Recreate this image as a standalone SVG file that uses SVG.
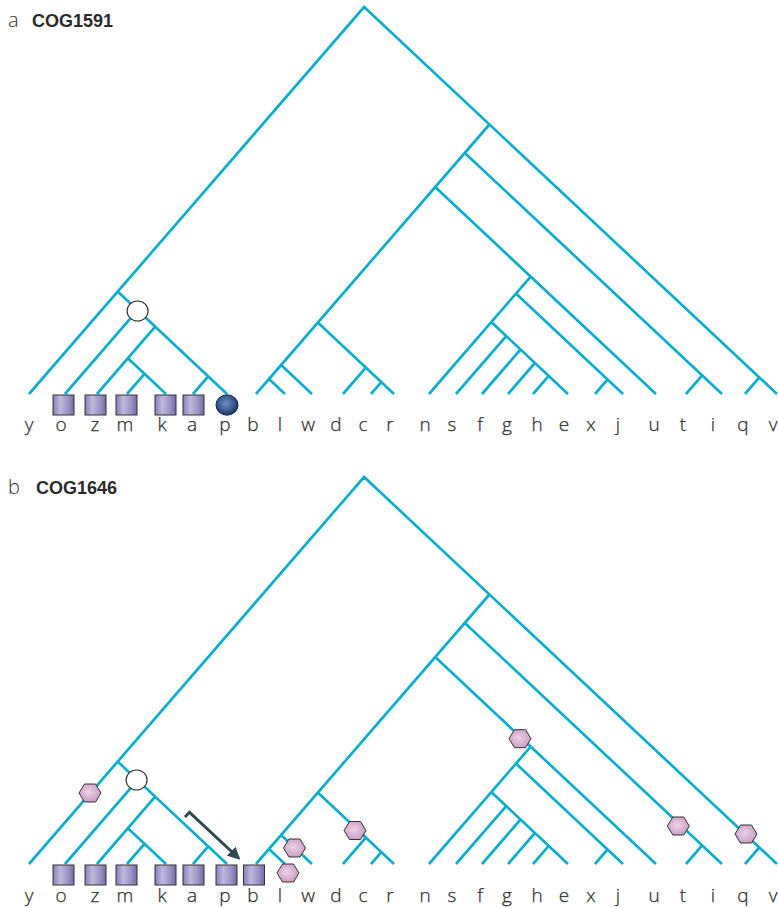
<svg xmlns="http://www.w3.org/2000/svg" xmlns:xlink="http://www.w3.org/1999/xlink" width="778" height="908" viewBox="0 0 778 908">
<defs>
<style>
.br{fill:none;stroke:#0BADCF;stroke-width:2.7;stroke-linecap:butt}
.lab{font-family:"Open Sans","Liberation Sans",sans-serif;font-weight:300;font-size:19px;fill:#2e2e2e;stroke:#2e2e2e;stroke-width:0.25;text-anchor:middle}
.ttl{font-family:"Liberation Sans",Arial,sans-serif;font-size:18px;fill:#2a2a2a}
.ttlb{font-weight:bold}
.ttll{font-family:"Open Sans","Liberation Sans",sans-serif;font-weight:300;font-size:20px;fill:#333}
.sq{fill:url(#sqg);stroke:#333;stroke-width:1}
.hx{fill:url(#hxg);stroke:#333;stroke-width:1}
.wc{fill:#fff;stroke:#333;stroke-width:1.2}
.arr{fill:none;stroke:#2E4A4C;stroke-width:3;stroke-linejoin:miter}
</style>
<linearGradient id="sqg" x1="0" y1="0" x2="1" y2="0">
<stop offset="0" stop-color="#8781B7"/>
<stop offset="0.35" stop-color="#BDB8DC"/>
<stop offset="0.7" stop-color="#9C96C6"/>
<stop offset="1" stop-color="#736CA5"/>
</linearGradient>
<radialGradient id="spg" cx="0.45" cy="0.42" r="0.6">
<stop offset="0" stop-color="#6E8FC0"/>
<stop offset="0.6" stop-color="#3A5A92"/>
<stop offset="1" stop-color="#1C2F5A"/>
</radialGradient>
<radialGradient id="hxg" cx="0.45" cy="0.45" r="0.6">
<stop offset="0" stop-color="#EBD2E6"/>
<stop offset="1" stop-color="#C79AC0"/>
</radialGradient>
<polygon id="hex" class="hx" points="-11,0 -5.5,-9 5.5,-9 11,0 5.5,9 -5.5,9"/>
<rect id="sqr" class="sq" x="-10.5" y="0" width="21" height="20"/>
<marker id="ah" viewBox="0 0 10 10" refX="8" refY="5" markerWidth="4.2" markerHeight="4.2" orient="auto" markerUnits="strokeWidth">
<path d="M0,0 L10,5 L0,10 z" fill="#2E4A4C"/>
</marker>
<g id="tree">
<path class="br" d="M29,394 L364.1,7 L777,394
M117.7,291.6 L227,394
M137.6,310.2 L65,394
M155.2,326.7 L97,394
M127.9,358.3 L166,394
M144.5,373.8 L127,394
M208.2,376.4 L193,394
M489.4,124.5 L256,394
M464.8,152.9 L722,394
M435.2,187.1 L656,394
M317.8,322.6 L394,394
M281.1,365 L312,394
M269,379 L285,394
M365.8,367.6 L343,394
M381.3,382.1 L371,394
M530.7,276.6 L429,394
M515.9,293.6 L623,394
M491.3,322.1 L568,394
M506.2,336.1 L456,394
M520.5,349.5 L482,394
M534.9,363 L508,394
M548.7,375.9 L533,394
M607.5,379.5 L595,394
M702.1,375.4 L686,394
M759.3,377.4 L745,394"/>
</g>
<g id="labels">
<text class="lab" x="29" y="431">y</text>
<text class="lab" x="61" y="431">o</text>
<text class="lab" x="95" y="431">z</text>
<text class="lab" x="125" y="431">m</text>
<text class="lab" x="162" y="431">k</text>
<text class="lab" x="192" y="431">a</text>
<text class="lab" x="225" y="431">p</text>
<text class="lab" x="253" y="431">b</text>
<text class="lab" x="280" y="431">l</text>
<text class="lab" x="308" y="431">w</text>
<text class="lab" x="336" y="431">d</text>
<text class="lab" x="363" y="431">c</text>
<text class="lab" x="390" y="431">r</text>
<text class="lab" x="425" y="431">n</text>
<text class="lab" x="452" y="431">s</text>
<text class="lab" x="480" y="431">f</text>
<text class="lab" x="507" y="431">g</text>
<text class="lab" x="537" y="431">h</text>
<text class="lab" x="564" y="431">e</text>
<text class="lab" x="591" y="431">x</text>
<text class="lab" x="618" y="431">j</text>
<text class="lab" x="654" y="431">u</text>
<text class="lab" x="683" y="431">t</text>
<text class="lab" x="713" y="431">i</text>
<text class="lab" x="743" y="431">q</text>
<text class="lab" x="773" y="431">v</text>
</g>
</defs>
<rect width="778" height="908" fill="#fff"/>

<g id="panel-a">
<text id="title-a" class="ttl" x="8" y="27"><tspan class="ttll">a</tspan><tspan class="ttlb" x="32">COG1591</tspan></text>
<g id="connectors-a"><use href="#tree"/></g>
<g id="node-a-circle"><ellipse class="wc" cx="137.6" cy="311" rx="10.5" ry="10"/></g>
<g id="leaf-a-o"><use href="#sqr" x="63.5" y="395"/></g>
<g id="leaf-a-z"><use href="#sqr" x="95.5" y="395"/></g>
<g id="leaf-a-m"><use href="#sqr" x="126.5" y="395"/></g>
<g id="leaf-a-k"><use href="#sqr" x="165.5" y="395"/></g>
<g id="leaf-a-a"><use href="#sqr" x="193.5" y="395"/></g>
<g id="leaf-a-p"><ellipse cx="227" cy="405" rx="11" ry="10.2" fill="url(#spg)" stroke="#1a2540" stroke-width="1"/></g>
<g id="labels-a"><use href="#labels"/></g>
</g>

<g id="panel-b">
<text id="title-b" class="ttl" x="8" y="494"><tspan class="ttll">b</tspan><tspan class="ttlb" x="36">COG1646</tspan></text>
<g id="connectors-b" transform="translate(0,470)"><use href="#tree"/></g>
<g id="node-b-circle"><ellipse class="wc" cx="136.6" cy="780" rx="10.5" ry="10"/></g>
<g id="leaf-b-o"><use href="#sqr" x="63.5" y="865"/></g>
<g id="leaf-b-z"><use href="#sqr" x="95.5" y="865"/></g>
<g id="leaf-b-m"><use href="#sqr" x="126.5" y="865"/></g>
<g id="leaf-b-k"><use href="#sqr" x="165.5" y="865"/></g>
<g id="leaf-b-a"><use href="#sqr" x="193.5" y="865"/></g>
<g id="leaf-b-p"><use href="#sqr" x="226.5" y="865"/></g>
<g id="leaf-b-b"><use href="#sqr" x="254" y="865"/></g>
<g id="hex-1"><use href="#hex" x="90" y="793"/></g>
<g id="hex-2"><use href="#hex" x="294.5" y="848"/></g>
<g id="hex-3"><use href="#hex" x="288" y="873"/></g>
<g id="hex-4"><use href="#hex" x="355" y="830.5"/></g>
<g id="hex-5"><use href="#hex" x="520" y="738.7"/></g>
<g id="hex-6"><use href="#hex" x="678.3" y="826"/></g>
<g id="hex-7"><use href="#hex" x="746" y="834"/></g>
<g id="transfer-arrow"><path class="arr" d="M185,817 L189.5,812.3 L238.5,858" marker-end="url(#ah)"/></g>
<g id="labels-b" transform="translate(0,471)"><use href="#labels"/></g>
</g>
</svg>
